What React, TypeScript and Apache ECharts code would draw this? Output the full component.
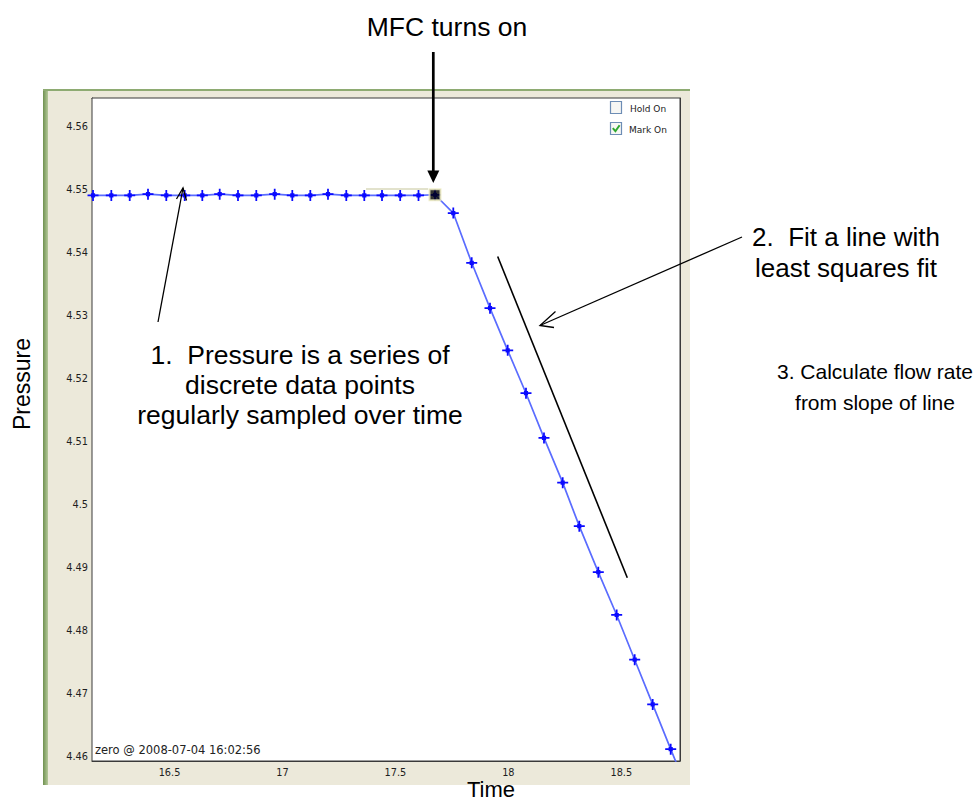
import React, { useEffect, useRef } from 'react';
import * as echarts from 'echarts';

// Sample times (x) and pressures (y)
const timeValues = [
  16.1614, 16.2424, 16.3238, 16.4048, 16.4858, 16.5673, 16.6452, 16.7222, 16.8032, 16.8842,
  16.9657, 17.0436, 17.1233, 17.2016, 17.2826, 17.3623, 17.4407, 17.5212, 17.6023, 17.6753,
  17.7563, 17.8378, 17.9188, 17.9971, 18.0781, 18.1578, 18.2406, 18.3141, 18.3982, 18.4796,
  18.5593, 18.639, 18.7187, 18.7984,
];
const pressureValues = [
  4.5491, 4.5491, 4.5491, 4.5493, 4.5491, 4.5491, 4.5491, 4.5493, 4.5491, 4.5491,
  4.5493, 4.5491, 4.5491, 4.5493, 4.5491, 4.5491, 4.5491, 4.5491, 4.5491, 4.5492,
  4.5463, 4.5384, 4.5312, 4.5245, 4.5177, 4.5106, 4.5035, 4.4966, 4.4893, 4.4825,
  4.4754, 4.4683, 4.4612, 4.4542,
];
const mfcTime = [17.6753];
const mfcPressure = [4.5492];
const fitTime = [17.9528, 18.5266];
const fitPressure = [4.5394, 4.4884];
const xTicks = [16.5, 17, 17.5, 18, 18.5];
const yTicks = [4.46, 4.47, 4.48, 4.49, 4.5, 4.51, 4.52, 4.53, 4.54, 4.55, 4.56];
const xMin = 16.1569;
const xMax = 18.7599;
const yMin = 4.45932;
const yMax = 4.56456;

const STAR =
  'path://M4.2 0h1.6v4.2h4.2v1.6h-4.2v4.2h-1.6v-4.2h-4.2v-1.6h4.2z M3.1 3.1h3.8v3.8h-3.8z';

const bigFont = 'Liberation Sans, Arial, sans-serif';
const smallFont = 'DejaVu Sans, sans-serif';

export default function App() {
  const ref = useRef<HTMLDivElement>(null);
  useEffect(() => {
    if (!ref.current) return;
    const chart = echarts.init(ref.current, undefined, { renderer: 'svg' });
    const mainData = timeValues.map((t, i) => [t, pressureValues[i]]);
    const mfcData = mfcTime.map((t, i) => [t, mfcPressure[i]]);
    const fitData = fitTime.map((t, i) => [t, fitPressure[i]]);
    const tickStyle = { color: '#333', width: 1 };
    const labelStyle = { fontFamily: smallFont, fontSize: 9.75, color: '#1e1e1e' };
    chart.setOption({
      animation: false,
      backgroundColor: '#ffffff',
      grid: {
        left: 92,
        top: 98,
        width: 588,
        height: 663,
        show: true,
        backgroundColor: '#ffffff',
        borderColor: '#3a3a3a',
        borderWidth: 1,
        z: 1,
      },
      xAxis: [
        {
          type: 'value',
          min: xMin,
          max: xMax,
          position: 'bottom',
          axisLine: { show: true, lineStyle: { color: '#3a3a3a' } },
          axisTick: { show: true, inside: true, length: 8, lineStyle: tickStyle, customValues: xTicks },
          axisLabel: {
            ...labelStyle,
            margin: 6,
            customValues: xTicks,
            formatter: (v: number) => String(Math.round(v * 10) / 10),
          },
          splitLine: { show: false },
        },
        {
          type: 'value',
          min: xMin,
          max: xMax,
          position: 'top',
          axisLine: { show: true, lineStyle: { color: '#3a3a3a' } },
          axisTick: { show: true, inside: true, length: 8, lineStyle: tickStyle, customValues: xTicks },
          axisLabel: { show: false },
          splitLine: { show: false },
        },
      ],
      yAxis: [
        {
          type: 'value',
          min: yMin,
          max: yMax,
          position: 'left',
          axisLine: { show: true, lineStyle: { color: '#3a3a3a' } },
          axisTick: { show: true, inside: true, length: 9, lineStyle: tickStyle, customValues: yTicks },
          axisLabel: {
            ...labelStyle,
            margin: 4,
            customValues: yTicks,
            formatter: (v: number) => String(Math.round(v * 100) / 100),
          },
          splitLine: { show: false },
        },
        {
          type: 'value',
          min: yMin,
          max: yMax,
          position: 'right',
          axisLine: { show: true, lineStyle: { color: '#3a3a3a' } },
          axisTick: { show: true, inside: true, length: 9, lineStyle: tickStyle, customValues: yTicks },
          axisLabel: { show: false },
          splitLine: { show: false },
        },
      ],
      series: [
        {
          type: 'line',
          xAxisIndex: 0,
          yAxisIndex: 0,
          data: mainData,
          symbol: STAR,
          symbolSize: 11,
          showAllSymbol: true,
          clip: true,
          lineStyle: { color: '#5a6cff', width: 1.7 },
          itemStyle: { color: '#0a0aff', borderWidth: 0 },
          z: 3,
        },
        {
          type: 'line',
          xAxisIndex: 0,
          yAxisIndex: 0,
          data: fitData,
          symbol: 'none',
          lineStyle: { color: '#000000', width: 1.6 },
          z: 3,
        },
        {
          type: 'scatter',
          xAxisIndex: 0,
          yAxisIndex: 0,
          data: mfcData,
          symbol: 'rect',
          symbolSize: 11,
          itemStyle: { color: '#000000', borderColor: '#eeecc0', borderWidth: 2 },
          z: 5,
        },
      ],
      graphic: [
        // figure panel
        { type: 'rect', z: -10, shape: { x: 43, y: 89, width: 647, height: 696 }, style: { fill: '#ECE9DA' } },
        {
          type: 'rect',
          z: -9,
          shape: { x: 43, y: 89, width: 5, height: 696 },
          style: {
            fill: new echarts.graphic.LinearGradient(0, 0, 1, 0, [
              { offset: 0, color: '#6f9150' },
              { offset: 1, color: '#b5c99a' },
            ]),
          },
        },
        { type: 'rect', z: -9, shape: { x: 43, y: 89, width: 647, height: 2 }, style: { fill: '#8eab72' } },
        // datatip remnant above flat section
        { type: 'line', z: 10, shape: { x1: 366, y1: 189, x2: 428, y2: 189 }, style: { stroke: '#e2e2cc', lineWidth: 2 } },
        // Hold On / Mark On boxes
        { type: 'rect', z: 10, shape: { x: 610.5, y: 101.5, width: 11, height: 12 }, style: { fill: '#f7f7f4', stroke: '#6d8db5', lineWidth: 1.2 } },
        { type: 'rect', z: 10, shape: { x: 610.5, y: 122.5, width: 11, height: 12 }, style: { fill: '#f7f7f4', stroke: '#6d8db5', lineWidth: 1.2 } },
        { type: 'polyline', z: 11, shape: { points: [[612.8, 128.2], [615.4, 131.2], [619.6, 125.2]] }, style: { stroke: '#2ea82e', lineWidth: 2, fill: 'none' } },
        { type: 'text', z: 11, x: 630, y: 108.5, style: { text: 'Hold On', fontFamily: smallFont, fontSize: 9, fill: '#222', verticalAlign: 'middle', align: 'left' } },
        { type: 'text', z: 11, x: 629, y: 129.5, style: { text: 'Mark On', fontFamily: smallFont, fontSize: 9, fill: '#222', verticalAlign: 'middle', align: 'left' } },
        // bottom-left stamp
        { type: 'text', z: 11, x: 95, y: 750, style: { text: 'zero @ 2008-07-04 16:02:56', fontFamily: smallFont, fontSize: 11.5, fill: '#222', verticalAlign: 'middle', align: 'left' } },
        // axis names
        { type: 'text', z: 11, x: 22, y: 384, rotation: Math.PI / 2, style: { text: 'Pressure', fontFamily: bigFont, fontSize: 23, fill: '#000', verticalAlign: 'middle', align: 'center' } },
        { type: 'text', z: 11, x: 491, y: 800, style: { text: 'Time', fontFamily: bigFont, fontSize: 22, fill: '#000', verticalAlign: 'bottom', align: 'center' } },
        // MFC annotation
        { type: 'text', z: 11, x: 447, y: 27, style: { text: 'MFC turns on', fontFamily: bigFont, fontSize: 26.5, fill: '#000', verticalAlign: 'middle', align: 'center' } },
        { type: 'line', z: 11, shape: { x1: 433.3, y1: 52, x2: 433.3, y2: 172 }, style: { stroke: '#000', lineWidth: 2.7 } },
        { type: 'polygon', z: 11, shape: { points: [[427.3, 170.5], [439.3, 170.5], [433.3, 183]] }, style: { fill: '#000' } },
        // annotation 1
        { type: 'text', z: 11, x: 300, y: 385, style: { text: '1.  Pressure is a series of\ndiscrete data points\nregularly sampled over time', fontFamily: bigFont, fontSize: 26.5, lineHeight: 30, fill: '#000', verticalAlign: 'middle', align: 'center' } },
        { type: 'line', z: 11, shape: { x1: 158, y1: 322, x2: 183, y2: 188 }, style: { stroke: '#000', lineWidth: 1.3 } },
        { type: 'polyline', z: 11, shape: { points: [[176.5, 199], [183, 188], [186.5, 200.5]] }, style: { stroke: '#000', lineWidth: 1.3, fill: 'none' } },
        // annotation 2
        { type: 'text', z: 11, x: 846, y: 252.5, style: { text: '2.  Fit a line with\nleast squares fit', fontFamily: bigFont, fontSize: 26, lineHeight: 31, fill: '#000', verticalAlign: 'middle', align: 'center' } },
        { type: 'line', z: 11, shape: { x1: 742, y1: 237, x2: 540, y2: 325.5 }, style: { stroke: '#000', lineWidth: 1.3 } },
        { type: 'polyline', z: 11, shape: { points: [[555.5, 311.5], [540, 325.5], [554, 327.5]] }, style: { stroke: '#000', lineWidth: 1.3, fill: 'none' } },
        // annotation 3
        { type: 'text', z: 11, x: 875, y: 386.5, style: { text: '3. Calculate flow rate\nfrom slope of line', fontFamily: bigFont, fontSize: 21, lineHeight: 31, fill: '#000', verticalAlign: 'middle', align: 'center' } },
      ],
    });
    return () => chart.dispose();
  }, []);
  return (
    <div
      ref={ref}
      style={{ position: 'absolute', left: 0, top: 0, width: 977, height: 800 }}
    />
  );
}
